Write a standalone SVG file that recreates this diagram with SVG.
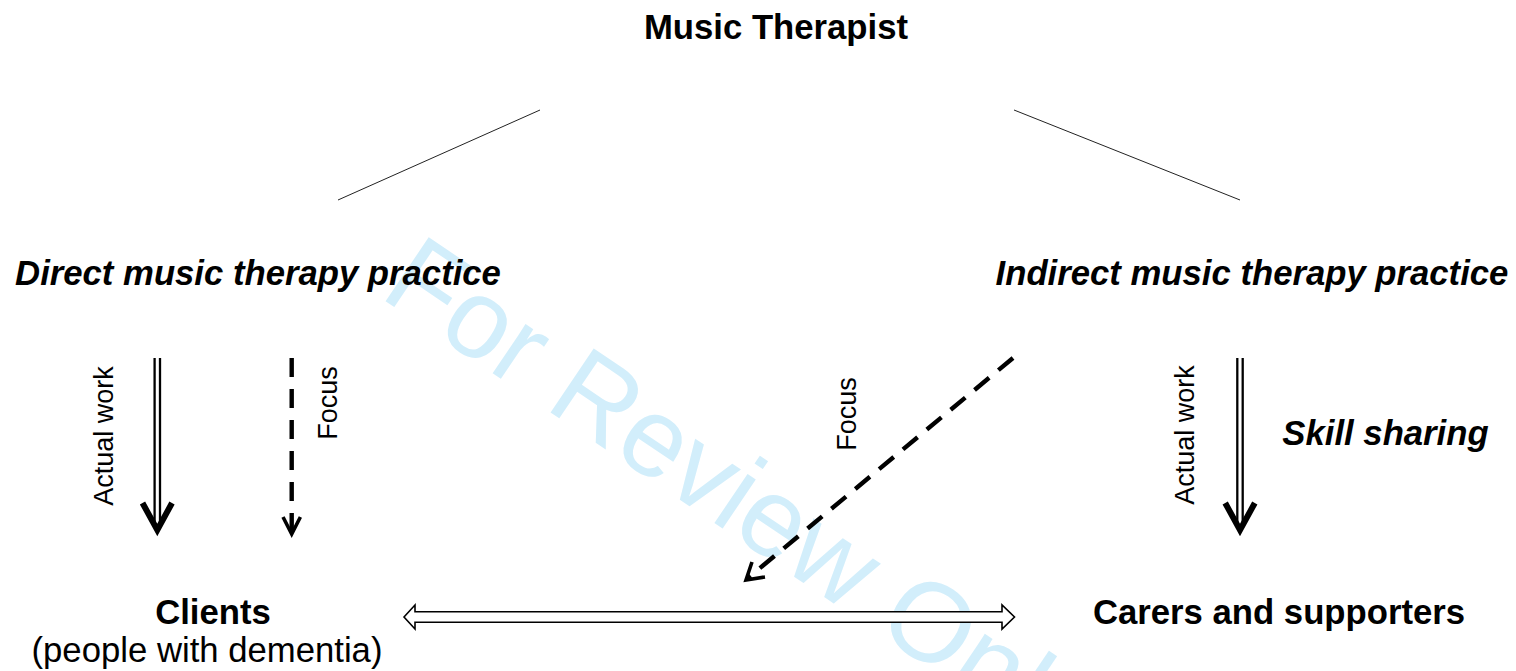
<svg xmlns="http://www.w3.org/2000/svg" width="1516" height="671" viewBox="0 0 1516 671">
  <style>
    text { font-family: "Liberation Sans", Arial, sans-serif; fill: #000; }
    .h { font-size: 34.7px; font-weight: bold; }
    .hi { font-size: 34.7px; font-weight: bold; font-style: italic; }
    .n { font-size: 34.7px; }
    .v { font-size: 27px; }
    .wm { font-size: 112px; fill: #d2eefb; }
    .thin { stroke: #222; stroke-width: 1; fill: none; }
    .shaft { stroke: #000; stroke-width: 2.3; fill: none; }
    .head { stroke: #000; stroke-width: 6; fill: none; stroke-linejoin: miter; stroke-miterlimit: 10; }
    .dash { stroke: #000; stroke-width: 4.4; fill: none; stroke-dasharray: 19 12; }
    .dhead { stroke: #000; stroke-width: 3.6; fill: none; stroke-linejoin: miter; }
  </style>
  <rect width="1516" height="671" fill="#fff"/>
  <g id="watermark">
    <text class="wm" transform="translate(378,296) rotate(34)">For Review Only</text>
  </g>
  <g id="connectors">
    <line class="thin" x1="540" y1="110" x2="338" y2="200"/>
    <line class="thin" x1="1014" y1="110" x2="1240" y2="200"/>
    <line class="shaft" x1="154.6" y1="358" x2="154.6" y2="528"/>
    <line class="shaft" x1="160" y1="358" x2="160" y2="528"/>
    <polyline class="head" points="142.5,503 157.3,530 172,503"/>
    <line class="dash" x1="291.7" y1="358" x2="291.7" y2="533"/>
    <polyline class="dhead" points="283,517 291.7,534 300.4,517"/>
    <line class="dash" x1="1013" y1="358" x2="748" y2="578"/>
    <polyline class="dhead" points="752,562 746,580 765,577"/>
    <line class="shaft" x1="1237.3" y1="358" x2="1237.3" y2="528"/>
    <line class="shaft" x1="1242.7" y1="358" x2="1242.7" y2="528"/>
    <polyline class="head" points="1225.2,503 1240,530 1254.8,503"/>
    <polygon points="404,617 415,605 415,611.7 1002,611.7 1002,605 1014.5,617 1002,629 1002,622.3 415,622.3 415,629" fill="#fff" stroke="#000" stroke-width="1.6" stroke-linejoin="miter"/>
  </g>
  <g id="music-therapist">
    <text class="h" x="776" y="38.5" text-anchor="middle">Music Therapist</text>
  </g>
  <g id="direct-practice">
    <text class="hi" x="258" y="285" text-anchor="middle">Direct music therapy practice</text>
  </g>
  <g id="indirect-practice">
    <text class="hi" x="1252" y="285" text-anchor="middle">Indirect music therapy practice</text>
  </g>
  <g id="label-actual-work-left">
    <text class="v" transform="translate(113,436) rotate(-90)" text-anchor="middle">Actual work</text>
  </g>
  <g id="label-focus-left">
    <text class="v" transform="translate(337,403) rotate(-90)" text-anchor="middle">Focus</text>
  </g>
  <g id="label-focus-middle">
    <text class="v" transform="translate(856,414) rotate(-90)" text-anchor="middle">Focus</text>
  </g>
  <g id="label-actual-work-right">
    <text class="v" transform="translate(1194,435) rotate(-90)" text-anchor="middle">Actual work</text>
  </g>
  <g id="skill-sharing">
    <text class="hi" x="1385.5" y="445" text-anchor="middle">Skill sharing</text>
  </g>
  <g id="clients">
    <text class="h" x="213" y="624" text-anchor="middle">Clients</text>
    <text class="n" x="207" y="662" text-anchor="middle">(people with dementia)</text>
  </g>
  <g id="carers">
    <text class="h" x="1279" y="624" text-anchor="middle">Carers and supporters</text>
  </g>
</svg>
